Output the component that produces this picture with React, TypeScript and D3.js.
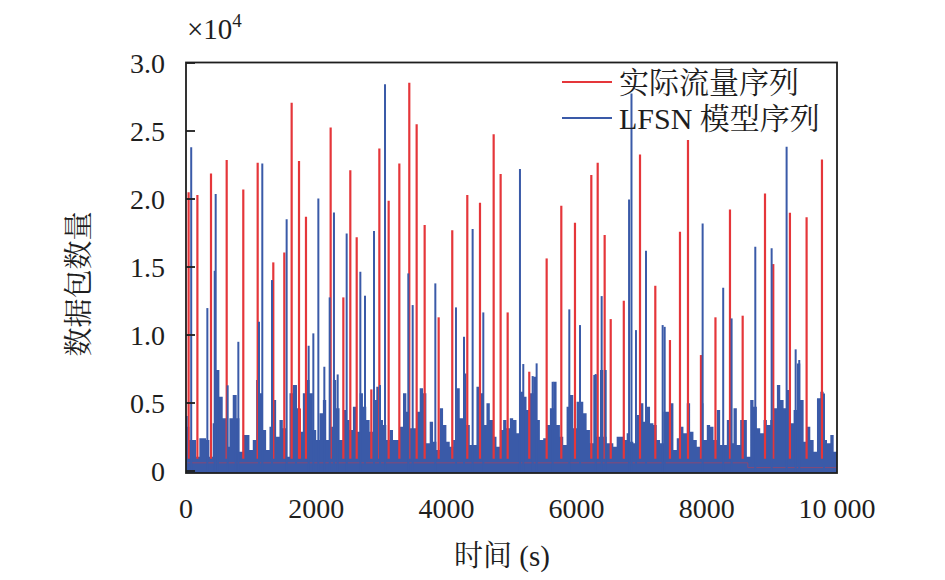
import React from "react";
import * as d3 from "d3";

// ---- data ----
// time axis: seconds, value axis: packets
const xTicks = [0, 2000, 4000, 6000, 8000, 10000];
const xTickLabels = ["0", "2000", "4000", "6000", "8000", "10 000"];
const yTicks = [0, 5000, 10000, 15000, 20000, 25000, 30000];
const yTickLabels = ["0", "0.5", "1.0", "1.5", "2.0", "2.5", "3.0"];

// tall spikes of the actual traffic series  [time, packets]
const redSpikes: [number, number][] = [
  [40, 20500], [175, 20300], [384, 21880], [625, 22860], [880, 20700], [1101, 22660],
  [1341, 15340], [1510, 16070], [1623, 27070], [1736, 22785], [1750, 4600], [1843, 18690],
  [2222, 25260], [2417, 12765], [2524, 22120], [2622, 17180], [2847, 6000], [2970, 23720],
  [3113, 19870], [3277, 22610], [3430, 28540], [3543, 25500], [3666, 18080], [3881, 11300],
  [4090, 17710], [4321, 20285], [4516, 19720], [4726, 24770], [4833, 21830], [4941, 11660],
  [5273, 7300], [5540, 15630], [5765, 19500], [5975, 18250], [6226, 21760], [6324, 22660],
  [6431, 17350], [6524, 11170], [6725, 12520], [6974, 23280], [7209, 13620], [7434, 9630],
  [7588, 17590], [7711, 24330], [7910, 8525], [8133, 11300], [8356, 19230], [8551, 11420],
  [8894, 20410], [9021, 15215], [9277, 18990], [9533, 18650], [9769, 22910],
];
// minimum level of the actual traffic series  [from time, packets]
const redFloorTimes = [0, 8630, 10000];
const redFloorValues = [600, 250, 250];
const redSpikeBase = 900;

// spikes of the LFSN model series  [time, packets]
const blueSpikes: [number, number][] = [
  [10, 4040], [80, 23800], [328, 11980], [441, 14720], [456, 20360], [491, 7350], [640, 6300],
  [763, 5590], [804, 9500], [1121, 10975], [1172, 22610], [1321, 14040], [1546, 18520],
  [1690, 6320], [1884, 9210], [1956, 10120], [2033, 20040], [2125, 7665], [2207, 12765],
  [2273, 19010], [2330, 7100], [2468, 17470], [2678, 14650], [2750, 12890], [2888, 17640],
  [2980, 6320], [3057, 28445], [3415, 14530], [3482, 12200], [3830, 13795], [4147, 12030],
  [4270, 9870], [4403, 17790], [4567, 11660], [5130, 22200], [5181, 7865], [5325, 6980],
  [5386, 7915], [5632, 6560], [5888, 11885], [6052, 10730], [6293, 7130], [6385, 12860],
  [6447, 7425], [6806, 19970], [6843, 27760], [6912, 10360], [7066, 16190], [7322, 10730],
  [7353, 10600], [7936, 18200], [8252, 13475], [8381, 11220], [8745, 16490], [8996, 16370],
  [9226, 23840], [9365, 8945], [9420, 8160], [9800, 5700],
];

// dense low-level part of the LFSN model series, one value per ~51 s
const blueBackground = [
  3259, 2279, 2279, 1054, 2401, 2401, 2279, 1054, 3504, 7424, 5464, 3871, 1789, 3871, 5586, 3871,
  1421, 2646, 2646, 1544, 2279, 6688, 5709, 3014, 1544, 3259, 5219, 2524, 3749, 3136, 1054, 5709,
  6321, 4606, 2891, 5709, 6688, 5709, 3014, 2279, 4239, 5219, 2279, 3259, 6688, 4606, 2279, 4484,
  3749, 3014, 4729, 2891, 5709, 4729, 3749, 2891, 5219, 6199, 3749, 3381, 2279, 3014, 2279, 2279,
  3259,
  5709, 4361, 3136, 3136, 4361, 6076, 5709, 2034, 3626, 2156, 1544, 4606, 3381, 2156, 1789, 2279,
  6076, 3871, 7178, 3381, 1911, 1911, 6199, 5709, 3381, 4974, 3749, 2524, 1789, 3014, 3749, 3136,
  3871, 3749, 2769, 5831, 5464, 4484, 5709, 6933, 3749, 2279, 2401, 3381, 4606, 6566, 3381, 2524,
  1911, 4729, 5586, 3136, 5096, 5096, 4239, 3014, 2034, 7056, 2524, 7424, 2524, 2034, 2034, 1789,
  2524,
  2524, 2279, 2769, 2156, 2034, 4116, 4974, 3626, 4729, 3504, 3381, 2279, 2034, 4361, 4361, 4974,
  1544, 2401, 3259, 2769, 4974, 2891, 2279, 1789, 4974, 2279, 3381, 3259, 2279, 4484, 1911, 1911,
  3749, 2034, 4606, 1911, 3749, 3749, 1054, 5219, 4729, 3136, 2769, 3749, 3381, 3749, 4606, 6321,
  5219, 4606, 5954, 3504, 4484, 7913, 5219, 2156, 3259, 2279, 1421, 5341, 5831, 2279, 2034, 2646,
  1421,
];
const blueBottom = -150;

const legendLabels = ["实际流量序列", "LFSN 模型序列"];

// ---- styles ----
const RED = "#e5363a";
const BLUE = "#3a5aa8";
const INK = "#1e1e1e";
const FONT = "'Liberation Serif', 'Times New Roman', 'Noto Serif CJK SC', 'Noto Sans CJK SC', serif";

export default function App() {
  const W = 945;
  const H = 580;
  const left = 186;
  const right = 837;
  const top = 62.5;
  const bottom = 473;

  const x = d3.scaleLinear().domain([0, 10000]).range([left, right]);
  const y = d3.scaleLinear().domain([0, 30000]).range([471, 63]);

  const step = 10000 / blueBackground.length;
  const bgPoints: [number, number][] = blueBackground.map((v, i) => [i * step, v]);
  bgPoints.push([10000, blueBackground[blueBackground.length - 1]]);
  const bgArea = d3
    .area<[number, number]>()
    .x((d) => x(d[0]))
    .y0(y(blueBottom))
    .y1((d) => y(d[1]))
    .curve(d3.curveStepAfter)(bgPoints) as string;

  const redFloorLine = d3
    .line<number>()
    .x((_, i) => x(redFloorTimes[i]))
    .y((v) => y(v))
    .curve(d3.curveStepAfter)(redFloorValues) as string;

  return (
    <svg
      width={W}
      height={H}
      style={{ position: "absolute", left: 0, top: 0, background: "#fff" }}
      fontFamily={FONT}
    >
      <defs>
        <clipPath id="plotClip">
          <rect x={left} y={top} width={right - left} height={bottom - top} />
        </clipPath>
      </defs>

      <g clipPath="url(#plotClip)">
        <path d={bgArea} fill={BLUE} />
        <path d={redFloorLine} fill="none" stroke={RED} strokeOpacity={0.45} strokeWidth={1} />
        {redSpikes.map(([t, v], i) => (
          <line
            key={"r" + i}
            x1={x(t)}
            x2={x(t)}
            y1={y(redSpikeBase)}
            y2={y(v)}
            stroke={RED}
            strokeWidth={2.2}
          />
        ))}
        {blueSpikes.map(([t, v], i) => (
          <line
            key={"b" + i}
            x1={x(t)}
            x2={x(t)}
            y1={y(blueBottom)}
            y2={y(v)}
            stroke={BLUE}
            strokeWidth={2}
          />
        ))}
      </g>

      {/* frame */}
      <rect
        x={left}
        y={top}
        width={right - left}
        height={bottom - top}
        fill="none"
        stroke={INK}
        strokeWidth={1.8}
      />

      {/* y ticks (inward) and labels */}
      {yTicks.map((v, i) => (
        <g key={"yt" + i}>
          <line x1={left} x2={left + 9} y1={y(v)} y2={y(v)} stroke={INK} strokeWidth={1.8} />
          <text
            x={165}
            y={y(v)}
            textAnchor="end"
            dominantBaseline="central"
            fontSize={28}
            fill={INK}
          >
            {yTickLabels[i]}
          </text>
        </g>
      ))}

      {/* x tick labels */}
      {xTicks.map((t, i) => (
        <text
          key={"xt" + i}
          x={x(t)}
          y={518}
          textAnchor="middle"
          fontSize={28}
          fill={INK}
        >
          {xTickLabels[i]}
        </text>
      ))}

      {/* multiplier */}
      <text x={187} y={39} fontSize={29} fill={INK}>
        ×10
        <tspan dy={-12} fontSize={19}>
          4
        </tspan>
      </text>

      {/* axis titles */}
      <text x={502} y={566} textAnchor="middle" fontSize={29} fill={INK}>
        时间 (s)
      </text>
      <text
        transform="translate(79,284) rotate(-90)"
        textAnchor="middle"
        dominantBaseline="central"
        fontSize={29}
        fill={INK}
      >
        数据包数量
      </text>

      {/* legend */}
      {[RED, BLUE].map((c, i) => (
        <g key={"lg" + i}>
          <line x1={562} x2={612} y1={82 + i * 36} y2={82 + i * 36} stroke={c} strokeWidth={2} />
          <text x={619} y={82 + i * 36} dominantBaseline="central" fontSize={30} fill={INK}>
            {legendLabels[i]}
          </text>
        </g>
      ))}
    </svg>
  );
}
